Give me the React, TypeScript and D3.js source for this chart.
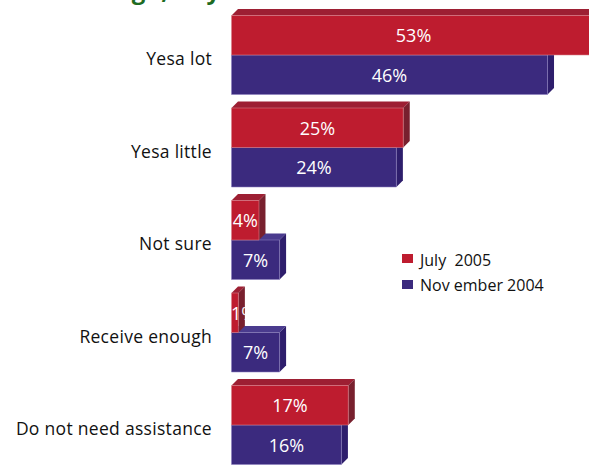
import React from "react";
import * as d3 from "d3";

const categories = ["Yesa lot", "Yesa little", "Not sure", "Receive enough", "Do not need assistance"];
const july2005 = [53, 25, 4, 1, 17];
const nov2004 = [46, 24, 7, 7, 16];
const seriesNames = ["July  2005", "Nov ember 2004"];

const W = 589;
const H = 465;
const FONT = "'Open Sans', 'Liberation Sans', sans-serif";

const RED = { front: "#BE1C2F", top: "#9D1F33", side: "#78202E", stroke: "#D9828C" };
const BLUE = { front: "#3B2A7E", top: "#4A3B8E", side: "#2E1E6C", stroke: "#8C80BE" };

const DX = 6.5;
const DY = 6.5;
const BAR_H = 39.5;

export default function App() {
  const x = d3.scaleLinear().domain([0, 100]).range([231.5, 231.5 + 687]);
  const y = d3.scaleBand<string>().domain(categories).range([9, 9 + 92.5 * 5]).padding(0);

  const bar = (key: string, v: number, top: number, c: typeof RED) => {
    const x0 = x(0);
    const x1 = x(v);
    const b = top + BAR_H;
    const frontPath = `M${x0},${top}H${x1}V${b}H${x0}Z`;
    const topPath = `M${x0},${top}L${x0 + DX},${top - DY}H${x1 + DX}L${x1},${top}Z`;
    const sidePath = `M${x1},${top}L${x1 + DX},${top - DY}V${b - DY}L${x1},${b}Z`;
    const label = `${v}%`;
    const approxW = label.length * 11.5;
    const cx = Math.max((x0 + x1) / 2, x0 + approxW / 2 + 0.5);
    const clipId = `clip-${key}`;
    return (
      <g key={key}>
        <clipPath id={clipId}>
          <rect x={x0} y={top - DY} width={x1 + DX - x0} height={BAR_H + DY} />
        </clipPath>
        <path d={topPath} fill={c.top} />
        <path d={sidePath} fill={c.side} />
        <path d={frontPath} fill={c.front} stroke={c.stroke} strokeWidth={0.7} strokeOpacity={0.8} />
        <text
          x={cx}
          y={top + BAR_H / 2 + 7}
          textAnchor="middle"
          fill="#FFFFFF"
          fontSize={18}
          fontFamily={FONT}
          clipPath={`url(#${clipId})`}
        >
          {label}
        </text>
      </g>
    );
  };

  return (
    <svg
      width={W}
      height={H}
      style={{ position: "absolute", left: 0, top: 0, background: "#FFFFFF" }}
      xmlns="http://www.w3.org/2000/svg"
    >
      <rect x={0} y={0} width={W} height={H} fill="#FFFFFF" />
      <text x={72} y={-1.5} fill="#1E6B22" fontWeight="bold" fontSize={24} fontFamily={FONT}>
        Enough, Day
      </text>
      {categories.map((cat, i) => {
        const g = y(cat)!;
        const redTop = g + DY;
        const blueTop = redTop + BAR_H;
        return (
          <g key={cat}>
            {bar(`b${i}`, nov2004[i], blueTop, BLUE)}
            {bar(`r${i}`, july2005[i], redTop, RED)}
            <text
              x={212}
              y={blueTop + 10}
              textAnchor="end"
              fill="#111111"
              fontSize={17.5}
              letterSpacing={0.3}
              fontFamily={FONT}
            >
              {cat}
            </text>
          </g>
        );
      })}
      <g>
        <rect x={402} y={254} width={11} height={9} fill={RED.front} />
        <text x={420} y={266} fontSize={16} fill="#111111" fontFamily={FONT} style={{ whiteSpace: "pre" }}>
          {seriesNames[0]}
        </text>
        <rect x={402} y={280} width={11} height={9} fill={BLUE.front} />
        <text x={420} y={291} fontSize={16} fill="#111111" fontFamily={FONT} style={{ whiteSpace: "pre" }}>
          {seriesNames[1]}
        </text>
      </g>
    </svg>
  );
}
